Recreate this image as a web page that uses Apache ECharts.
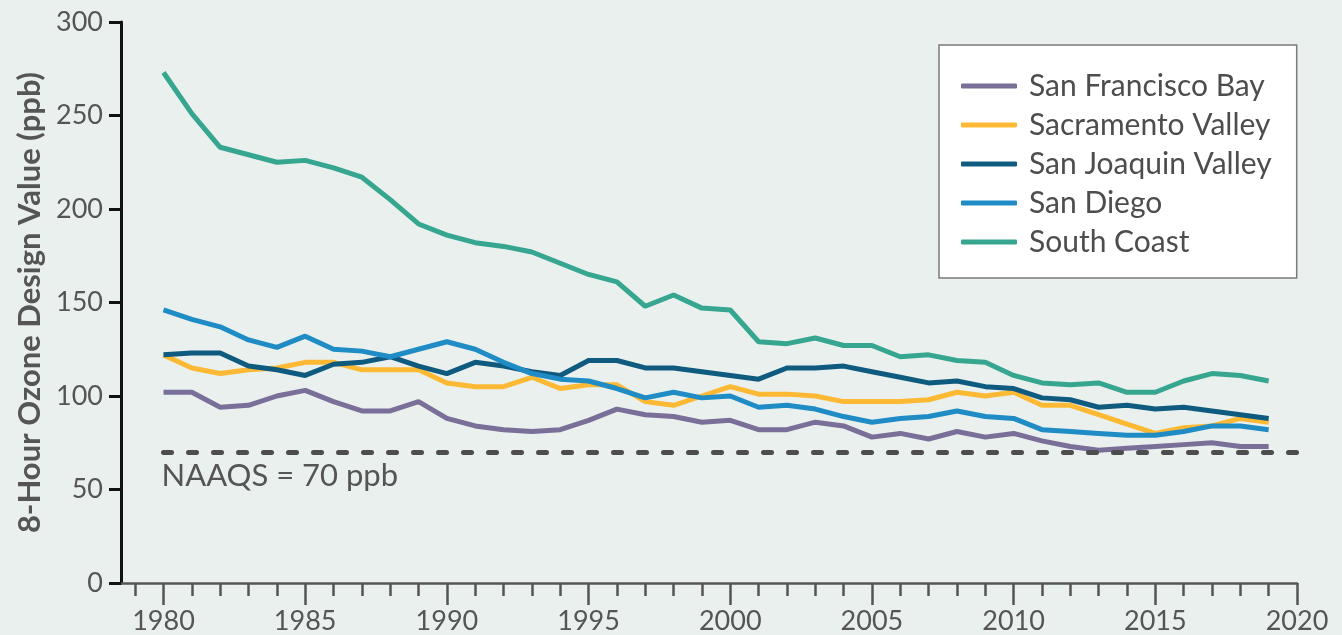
<!DOCTYPE html>
<html>
<head>
<meta charset="utf-8">
<script src="https://cdn.jsdelivr.net/npm/echarts@6/dist/echarts.min.js"></script>
<style>
  html, body { margin: 0; padding: 0; background: #e9f0ed; }
  #chart { width: 1342px; height: 635px; }
</style>
</head>
<body>
<div id="chart"></div>
<script>
// years 1980..2019
var years = [];
for (var y = 1980; y <= 2019; y++) years.push(y);

var sanFrancisco = [102,102,94,95,100,103,97,92,92,97, 88,84,82,81,82,87,93,90,89,86, 87,82,82,86,84,78,80,77,81,78, 80,76,73,71,72,73,74,75,73,73];
var sacramento   = [122,115,112,114,115,118,118,114,114,114, 107,105,105,110,104,106,106,97,95,100, 105,101,101,100,97,97,97,98,102,100, 102,95,95,90,85,80,83,84,88,86];
var sanJoaquin   = [122,123,123,116,114,111,117,118,121,116, 112,118,116,113,111,119,119,115,115,113, 111,109,115,115,116,113,110,107,108,105, 104,99,98,94,95,93,94,92,90,88];
var sanDiego     = [146,141,137,130,126,132,125,124,121,125, 129,125,118,112,109,108,104,99,102,99, 100,94,95,93,89,86,88,89,92,89, 88,82,81,80,79,79,81,84,84,82];
var southCoast   = [273,251,233,229,225,226,222,217,205,192, 186,182,180,177,171,165,161,148,154,147, 146,129,128,131,127,127,121,122,119,118, 111,107,106,107,102,102,108,112,111,108];

var seriesNames  = ['San Francisco Bay','Sacramento Valley','San Joaquin Valley','San Diego','South Coast'];
var seriesData   = [sanFrancisco, sacramento, sanJoaquin, sanDiego, southCoast];
var seriesColors = ['#7a6f99','#fdb934','#0f5a7f','#1f8cc5','#36a690'];

var naaqsValue = 70;
var naaqsLabel = 'NAAQS = 70 ppb';
var majorYears = [1980,1985,1990,1995,2000,2005,2010,2015,2020];
var minorYears = [];
for (var m = 1979; m < 2020; m++) if (m % 5 !== 0) minorYears.push(m);

var font = 'Lato, "Open Sans", sans-serif';
var grey = '#555555';

var chart = echarts.init(document.getElementById('chart'));

var series = seriesNames.map(function (name, i) {
  return {
    name: name,
    type: 'line',
    showSymbol: false,
    symbol: 'none',
    xAxisIndex: 0,
    lineStyle: { width: 5, color: seriesColors[i] },
    itemStyle: { color: seriesColors[i] },
    data: years.map(function (yr, k) { return [yr, seriesData[i][k]]; }),
    z: 3
  };
});

// NAAQS reference line
series.push({
  name: 'naaqs',
  type: 'line',
  data: [],
  xAxisIndex: 0,
  z: 4,
  markLine: {
    silent: true,
    symbol: ['none', 'none'],
    lineStyle: { color: '#4d4d4d', width: 5, type: [8, 17], cap: 'round' },
    label: {
      show: true,
      position: 'insideStartBottom',
      formatter: naaqsLabel,
      color: grey,
      fontFamily: font,
      fontSize: 31,
      distance: [-2, 8]
    },
    data: [[{ coord: [1980, naaqsValue] }, { coord: [2020, naaqsValue] }]]
  }
});

var option = {
  backgroundColor: '#e9f0ed',
  animation: false,
  textStyle: { fontFamily: font },
  grid: { left: 121, right: 45, top: 22, bottom: 52, containLabel: false },
  legend: {
    data: seriesNames,
    orient: 'vertical',
    left: 939,
    top: 45,
    backgroundColor: '#ffffff',
    borderColor: '#7a7a7a',
    borderWidth: 1.5,
    borderRadius: 0,
    padding: [26, 25, 21, 22],
    itemWidth: 56,
    itemHeight: 5,
    itemGap: 9,
    icon: 'roundRect',
    textStyle: { color: '#4d4d4d', fontSize: 30, fontFamily: font, lineHeight: 30, padding: [0, 0, 0, 7] }
  },
  xAxis: [{
    type: 'value',
    min: 1978.5,
    max: 2020,
    splitLine: { show: false },
    axisLine: { show: true, lineStyle: { color: grey, width: 2.5 } },
    axisTick: { show: true, customValues: majorYears, length: 22, lineStyle: { color: grey, width: 2.5 } },
    axisLabel: { customValues: majorYears, color: grey, fontSize: 27, fontFamily: font, margin: 25, formatter: function (v) { return String(v); } }
  }, {
    type: 'value',
    position: 'bottom',
    offset: 0,
    min: 1978.5,
    max: 2020,
    splitLine: { show: false },
    axisLine: { show: false },
    axisTick: { show: true, customValues: minorYears, length: 13, lineStyle: { color: grey, width: 2.5 } },
    axisLabel: { show: false }
  }],
  yAxis: {
    type: 'value',
    min: 0,
    max: 300,
    interval: 50,
    name: '8-Hour Ozone Design Value (ppb)',
    nameLocation: 'middle',
    nameGap: 74,
    nameTextStyle: { color: grey, fontSize: 31, fontWeight: 'bold', fontFamily: font },
    splitLine: { show: false },
    axisLine: { show: true, lineStyle: { color: '#111111', width: 3 } },
    axisTick: { show: true, length: 12, lineStyle: { color: '#111111', width: 3 } },
    axisLabel: { color: grey, fontSize: 27, fontFamily: font, margin: 18 }
  },
  series: series
};

chart.setOption(option);
</script>
</body>
</html>
